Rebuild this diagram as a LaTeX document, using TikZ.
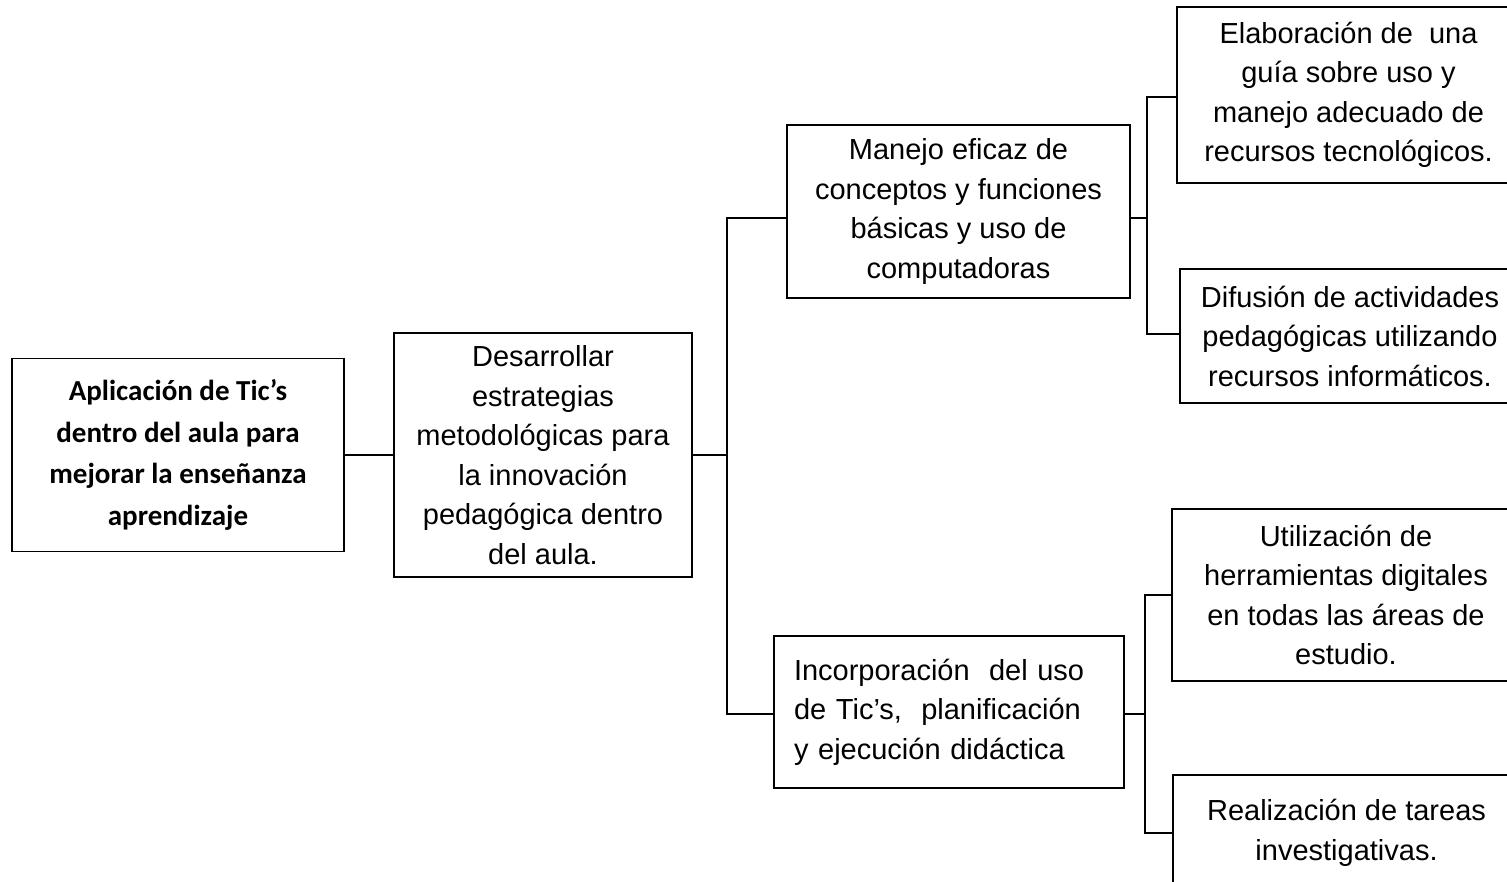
\documentclass[tikz,border=0pt]{standalone}
\usepackage{fontspec}
\setmainfont{Liberation Sans}
\newfontfamily\calibri{Carlito}
\begin{document}
\begin{tikzpicture}[x=1pt,y=-1pt,line cap=rect,
  caja/.style={draw=custcol_0_0_0,line width=1.6pt,inner sep=0,outer sep=0,align=center,
    font=\fontsize{29pt}{39.5pt}\selectfont},
  cajaraiz/.style={caja,font=\fontsize{29pt}{41.5pt}\selectfont\calibri\bfseries},
  enlace/.style={line width=1.6pt,custcol_0_0_0}]
\useasboundingbox (0,0) rectangle (1507,882);
\clip (0,0) rectangle (1507,882);
\definecolor{custcol_0_0_0}{RGB}{0, 0, 0}
\node[cajaraiz, minimum width=332pt, minimum height=193pt] (raiz) at (178,455) {Aplicación de Tic’s\\dentro del aula para\\mejorar la enseñanza\\aprendizaje};
\node[caja, minimum width=298pt, minimum height=244pt] (estrategias) at (543,455) {Desarrollar\\estrategias\\metodológicas para\\la innovación\\pedagógica dentro\\del aula.};
\node[caja, minimum width=343pt, minimum height=173pt] (manejo) at (958.5,211.5) {Manejo eficaz de\\conceptos y funciones\\básicas y uso de\\computadoras};
\node[caja, minimum width=350pt, minimum height=152pt, text width=310pt, align=left] (incorporacion) at (949,712) {Incorporación\ \ del uso\\de Tic’s,\ \ planificación\\y ejecución didáctica};
\node[caja, minimum width=343pt, minimum height=176pt] (guia) at (1348.5,95) {Elaboración de\ \ una\\guía sobre uso y\\manejo adecuado de\\recursos tecnológicos.};
\node[caja, minimum width=340pt, minimum height=134pt] (difusion) at (1350,336) {Difusión de actividades\\pedagógicas utilizando\\recursos informáticos.};
\node[caja, minimum width=348pt, minimum height=172pt] (herramientas) at (1346,595) {Utilización de\\herramientas digitales\\en todas las áreas de\\estudio.};
\node[caja, minimum width=347pt, minimum height=116pt] (tareas) at (1346.5,833) {Realización de tareas\\investigativas.};
\coordinate (nudo1) at (727,455);
\coordinate (nudo2) at (1147,218);
\coordinate (nudo3) at (1145,714);
\draw [enlace] (raiz) -- (estrategias);
\draw [enlace] (estrategias.east) -- (nudo1);
\draw [enlace] ([yshift=-6.5pt]manejo.west) -| (nudo1) |- ([yshift=-2pt]incorporacion.west);
\draw [enlace] ([yshift=-6.5pt]manejo.east) -- (nudo2);
\draw [enlace] ([yshift=-2pt]guia.west) -| (nudo2) |- ([yshift=2pt]difusion.west);
\draw [enlace] ([yshift=-2pt]incorporacion.east) -- (nudo3);
\draw [enlace] (herramientas.west) -| (nudo3) |- (tareas.west);
\end{tikzpicture}
\end{document}
